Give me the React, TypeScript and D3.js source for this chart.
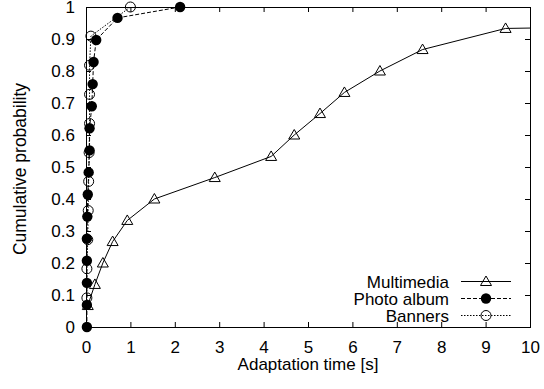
import { useEffect, useRef } from "react";
import * as d3 from "d3";

// Multimedia (open triangles, solid line) - last point lies beyond the x range
const multimediaX = [0.04, 0.2, 0.38, 0.6, 0.93, 1.54, 2.9, 4.17, 4.69, 5.27, 5.82, 6.62, 7.58, 9.45, 40];
const multimediaY = [0.067, 0.133, 0.2, 0.267, 0.333, 0.4, 0.467, 0.533, 0.6, 0.667, 0.733, 0.8, 0.867, 0.933, 1];

// Photo album (filled circles, dashed line)
const photoX = [0.02, 0.02, 0.02, 0.02, 0.02, 0.03, 0.04, 0.06, 0.08, 0.08, 0.13, 0.15, 0.17, 0.23, 0.71, 2.12];
const photoY = [0, 0.069, 0.138, 0.207, 0.276, 0.345, 0.414, 0.483, 0.552, 0.621, 0.69, 0.759, 0.828, 0.897, 0.966, 1];

// Banners (open circles, dotted line)
const bannersX = [0.02, 0.02, 0.04, 0.05, 0.06, 0.07, 0.08, 0.08, 0.08, 0.11, 1.0];
const bannersY = [0.091, 0.182, 0.273, 0.364, 0.455, 0.545, 0.636, 0.727, 0.818, 0.909, 1];

const xTicks = [0, 1, 2, 3, 4, 5, 6, 7, 8, 9, 10];
const xTickLabels = ["0", "1", "2", "3", "4", "5", "6", "7", "8", "9", "10"];
const yTicks = [0, 0.1, 0.2, 0.3, 0.4, 0.5, 0.6, 0.7, 0.8, 0.9, 1];
const yTickLabels = ["0", "0.1", "0.2", "0.3", "0.4", "0.5", "0.6", "0.7", "0.8", "0.9", "1"];

const seriesNames = ["Multimedia", "Photo album", "Banners"];

const FONT = "'Liberation Sans', Arial, Helvetica, sans-serif";
const FS = 17;

export default function App() {
  const svgRef = useRef<SVGSVGElement>(null);

  useEffect(() => {
    const width = 544;
    const height = 389;
    const svg = d3.select(svgRef.current).attr("width", width).attr("height", height);
    svg.selectAll("*").remove();

    const left = 86;
    const right = 530;
    const top = 7;
    const bottom = 327;

    const x = d3.scaleLinear().domain([0, 10]).range([left, right]);
    const y = d3.scaleLinear().domain([0, 1]).range([bottom, top]);

    svg.append("rect").attr("width", width).attr("height", height).attr("fill", "#fff");

    const defs = svg.append("defs");
    defs
      .append("clipPath")
      .attr("id", "plotClip")
      .append("rect")
      .attr("x", left)
      .attr("y", top)
      .attr("width", right - left + 1)
      .attr("height", bottom - top + 1);

    // inward ticks on all four sides
    const tickLen = 5;
    const axes = [
      { ax: d3.axisBottom(x).tickValues(xTicks), t: `translate(0,${bottom})` },
      { ax: d3.axisTop(x).tickValues(xTicks), t: `translate(0,${top})` },
      { ax: d3.axisLeft(y).tickValues(yTicks), t: `translate(${left},0)` },
      { ax: d3.axisRight(y).tickValues(yTicks), t: `translate(${right},0)` },
    ];
    axes.forEach(({ ax, t }) => {
      svg
        .append("g")
        .attr("transform", t)
        .call(ax.tickSize(-tickLen).tickFormat(() => ""))
        .call((g) => g.select(".domain").remove())
        .selectAll("line")
        .attr("stroke", "#000");
    });

    svg
      .append("rect")
      .attr("x", left + 0.5)
      .attr("y", top + 0.5)
      .attr("width", right - left)
      .attr("height", bottom - top)
      .attr("fill", "none")
      .attr("stroke", "#000")
      .attr("stroke-width", 1);

    // tick labels
    svg
      .append("g")
      .selectAll("text")
      .data(xTicks)
      .enter()
      .append("text")
      .attr("x", (d) => x(d) + 0.5)
      .attr("y", 353)
      .attr("text-anchor", "middle")
      .attr("font-family", FONT)
      .attr("font-size", FS)
      .text((_, i) => xTickLabels[i]);

    svg
      .append("g")
      .selectAll("text")
      .data(yTicks)
      .enter()
      .append("text")
      .attr("x", 75)
      .attr("y", (d) => y(d) + 6)
      .attr("text-anchor", "end")
      .attr("font-family", FONT)
      .attr("font-size", FS)
      .text((_, i) => yTickLabels[i]);

    svg
      .append("text")
      .attr("x", (left + right) / 2)
      .attr("y", 370)
      .attr("text-anchor", "middle")
      .attr("font-family", FONT)
      .attr("font-size", FS)
      .text("Adaptation time [s]");

    svg
      .append("text")
      .attr("transform", `translate(26,${(top + bottom) / 2 + 2}) rotate(-90)`)
      .attr("text-anchor", "middle")
      .attr("font-family", FONT)
      .attr("font-size", FS + 0.5)
      .text("Cumulative probability");

    const triangle = "M0,-5.5L5.5,4L-5.5,4Z";
    const drawMarker = (
      g: d3.Selection<SVGGElement, unknown, null, undefined>,
      kind: number,
      cx: number,
      cy: number
    ) => {
      if (kind === 0) {
        g.append("path")
          .attr("d", triangle)
          .attr("transform", `translate(${cx},${cy})`)
          .attr("fill", "none")
          .attr("stroke", "#000")
          .attr("stroke-width", 1);
      } else if (kind === 1) {
        g.append("circle").attr("cx", cx).attr("cy", cy).attr("r", 5.2).attr("fill", "#000");
      } else {
        g.append("circle")
          .attr("cx", cx)
          .attr("cy", cy)
          .attr("r", 5)
          .attr("fill", "none")
          .attr("stroke", "#000")
          .attr("stroke-width", 1);
      }
    };

    const series = [
      { xs: multimediaX, ys: multimediaY, dash: null as string | null },
      { xs: photoX, ys: photoY, dash: "4,2" },
      { xs: bannersX, ys: bannersY, dash: "1.5,1.5" },
    ];

    const line = d3
      .line<[number, number]>()
      .x((d) => x(d[0]))
      .y((d) => y(d[1]));

    // draw banners first so the filled circles sit on top
    [2, 0, 1].forEach((k) => {
      const s = series[k];
      const pts = s.xs.map((v, i) => [v, s.ys[i]] as [number, number]);
      const g = svg.append("g");
      g.append("path")
        .attr("d", line(pts))
        .attr("clip-path", "url(#plotClip)")
        .attr("fill", "none")
        .attr("stroke", "#000")
        .attr("stroke-width", 1)
        .attr("stroke-dasharray", s.dash);
      pts
        .filter((p) => p[0] <= 10 && p[1] <= 1)
        .forEach((p) => drawMarker(g, k, x(p[0]), y(p[1])));
    });

    // legend
    const legendRows = [281.5, 298.5, 315.5];
    seriesNames.forEach((name, k) => {
      const ly = legendRows[k];
      const g = svg.append("g");
      g.append("text")
        .attr("x", 449)
        .attr("y", ly + 6)
        .attr("text-anchor", "end")
        .attr("font-family", FONT)
        .attr("font-size", FS)
        .text(name);
      g.append("line")
        .attr("x1", 461)
        .attr("x2", 511)
        .attr("y1", ly)
        .attr("y2", ly)
        .attr("stroke", "#000")
        .attr("stroke-width", 1)
        .attr("stroke-dasharray", series[k].dash);
      drawMarker(g, k, 486, ly);
    });
  }, []);

  return (
    <svg
      ref={svgRef}
      style={{ position: "absolute", left: 0, top: 0, display: "block" }}
    />
  );
}
